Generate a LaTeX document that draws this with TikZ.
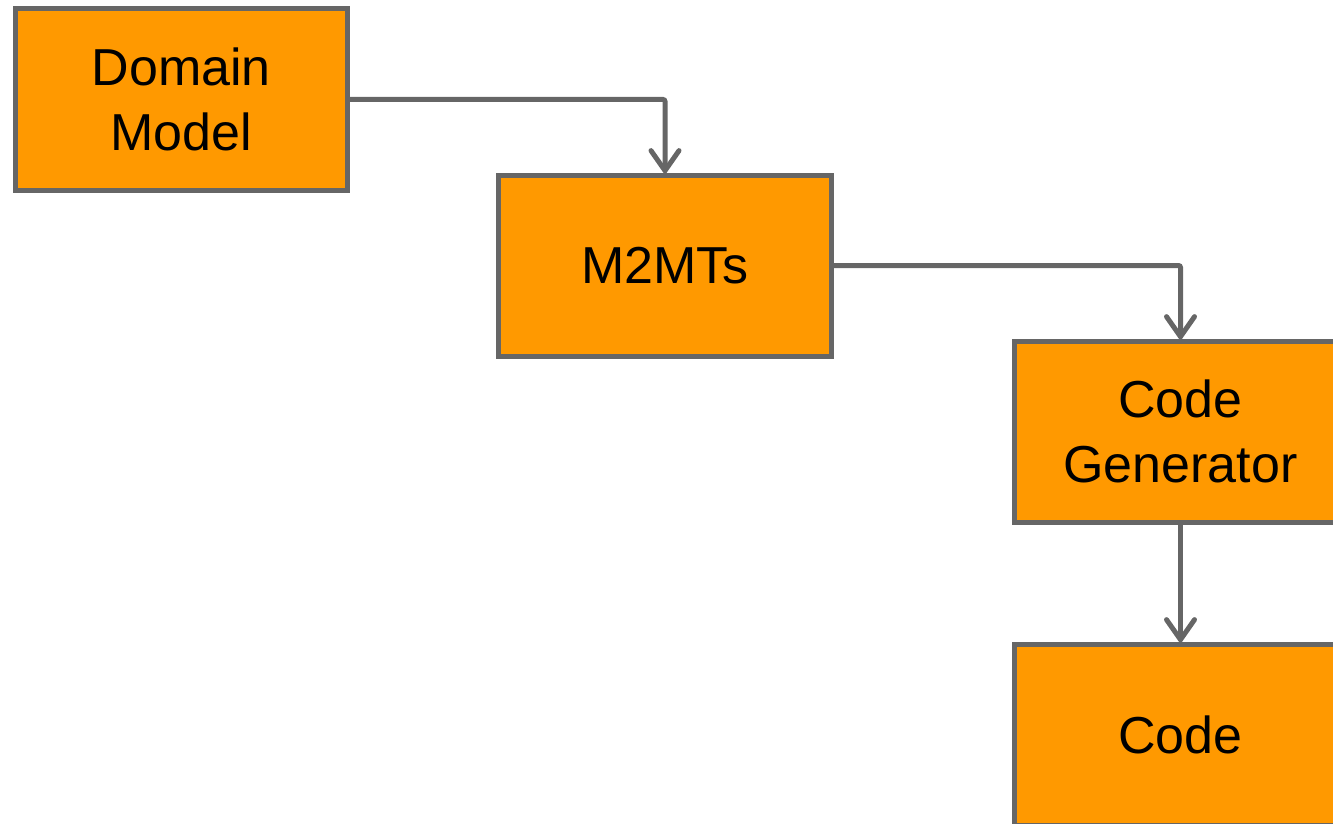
\documentclass[tikz,border=0pt]{standalone}
\usepackage{fontspec}
\setmainfont{Liberation Sans}
\usetikzlibrary{arrows.meta}
\definecolor{boxfill}{HTML}{FF9900}
\definecolor{boxline}{HTML}{666666}
\tikzset{
  stepbox/.style={draw=boxline, fill=boxfill, line width=5pt, rectangle,
    minimum width=332.5pt, minimum height=181pt, inner sep=0pt, outer sep=0pt,
    align=center, font=\fontsize{52}{65}\selectfont},
  flow/.style={draw=boxline, line width=5pt, rounded corners=2pt,
    -{Straight Barb[length=20pt,width=28pt,line width=5pt,line cap=round]}}
}
\begin{document}
\begin{tikzpicture}[x=1pt,y=-1pt]
\useasboundingbox (0,0) rectangle (1333,824);
\clip (0,0) rectangle (1333,824);
\node[stepbox] (dm) at (181.25,99.5) {Domain\\Model};
\node[stepbox] (m2m) at (665,265.5) {M2MTs};
\node[stepbox] (cg) at (1180.5,431.5) {Code\\Generator};
\node[stepbox] (code) at (1180.5,734.5) {Code};
\draw[flow] (dm.east) -| (m2m.north);
\draw[flow] (m2m.east) -| (cg.north);
\draw[flow] (cg.south) -- (code.north);
\end{tikzpicture}
\end{document}
